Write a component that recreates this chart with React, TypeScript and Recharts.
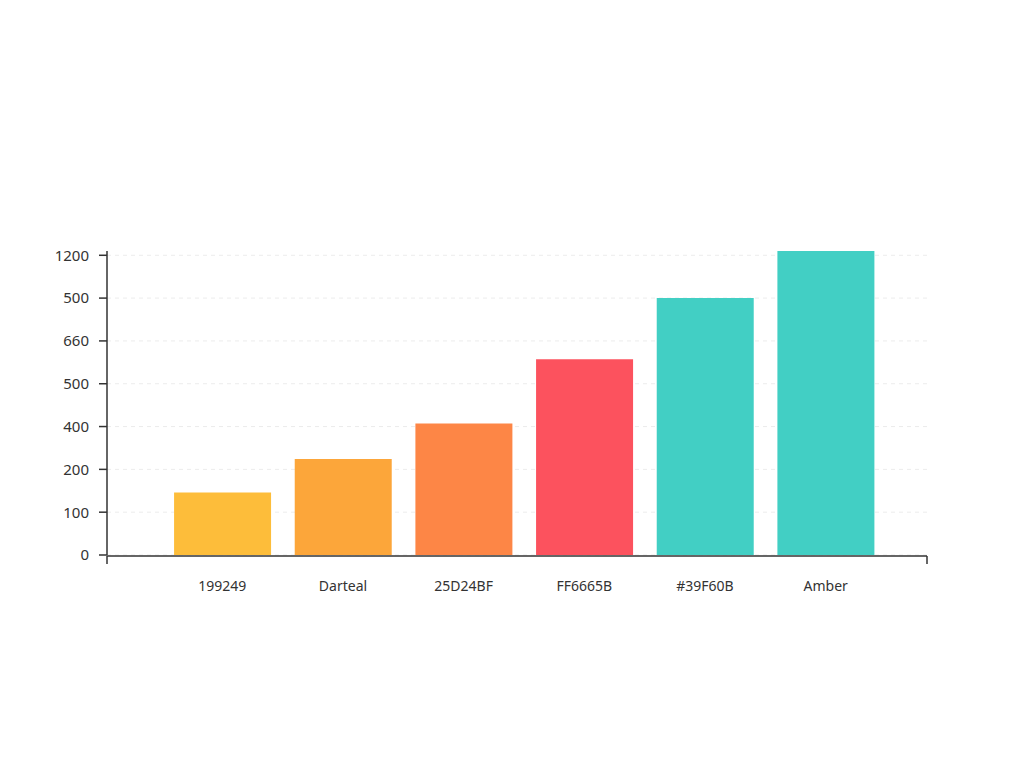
import { BarChart, Bar, XAxis, YAxis, CartesianGrid, Cell } from 'recharts'

// y-axis labels as printed, one per evenly spaced gridline
const yLabels = ['0', '100', '200', '400', '500', '660', '500', '1200']
const yTicks = [0, 1, 2, 3, 4, 5, 6, 7]

const categories = ['199249', 'Darteal', '25D24BF', 'FF6665B', '#39F60B', 'Amber']
// heights measured in gridline steps
const values = [1.46, 2.24, 3.07, 4.57, 6.0, 7.1]
const colors = ['#FDBD3A', '#FCA63A', '#FD8646', '#FC525E', '#42CFC4', '#42CFC4']

const data = categories.map((name, i) => ({ name, value: values[i] }))

const font = '"Noto Sans", sans-serif'
const axisStroke = { stroke: '#333', strokeWidth: 1.5 }

export default function App() {
  return (
    <div style={{ width: 1000, height: 700, fontFamily: font }}>
      <BarChart
        width={1000}
        height={700}
        data={data}
        margin={{ top: 243, right: 81, bottom: 151, left: 39 }}
        barCategoryGap="10%"
      >
        <CartesianGrid vertical={false} syncWithTicks strokeDasharray="4 4" stroke="#ECECEC" />
        <XAxis
          dataKey="name"
          height={1}
          padding={{ left: 55, right: 41 }}
          axisLine={false}
          tickLine={false}
          tickMargin={20}
          tick={{ fontSize: 14, fill: '#333', fontFamily: font }}
        />
        {/* full-width baseline with a small tick at each end (index domain) */}
        <XAxis
          xAxisId="edge"
          type="number"
          domain={[0, categories.length - 1]}
          ticks={[0, categories.length - 1]}
          height={1}
          axisLine={axisStroke}
          tickSize={8}
          tickLine={axisStroke}
          tickFormatter={() => ''}
        />
        <YAxis
          width={60}
          domain={[0, 7.1]}
          ticks={yTicks}
          interval={0}
          tickFormatter={(v: number) => yLabels[v] ?? ''}
          axisLine={axisStroke}
          tickSize={8}
          tickMargin={10}
          tickLine={axisStroke}
          tick={{ fontSize: 15, fill: '#333', fontFamily: font }}
        />
        <Bar dataKey="value" isAnimationActive={false}>
          {data.map((d, i) => (
            <Cell key={d.name} fill={colors[i]} />
          ))}
        </Bar>
      </BarChart>
    </div>
  )
}
